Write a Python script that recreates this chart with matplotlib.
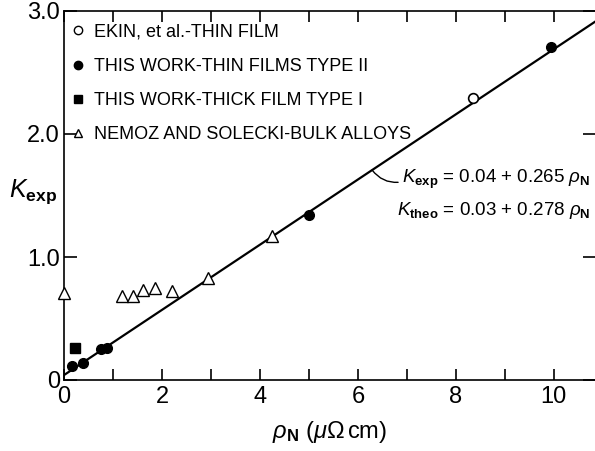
import matplotlib
matplotlib.use('Agg')
import matplotlib.pyplot as plt
from matplotlib.lines import Line2D
import numpy as np

plt.rcParams['font.family'] = ['Liberation Sans', 'DejaVu Sans']
plt.rcParams['mathtext.fontset'] = 'custom'
plt.rcParams['mathtext.rm'] = 'Liberation Sans'
plt.rcParams['mathtext.it'] = 'Liberation Sans:italic'
plt.rcParams['mathtext.bf'] = 'Liberation Sans:bold'

# Data
ekin_rho = [8.35]
ekin_k = [2.29]

thin_rho = [0.16, 0.38, 0.76, 0.88, 5.0, 9.95]
thin_k = [0.11, 0.14, 0.25, 0.26, 1.34, 2.71]

thick_rho = [0.22]
thick_k = [0.26]

nemoz_rho = [0.0, 1.18, 1.41, 1.61, 1.86, 2.2, 2.93, 4.24]
nemoz_k = [0.71, 0.68, 0.68, 0.73, 0.75, 0.72, 0.83, 1.17]

fit_a, fit_b = 0.04, 0.265

fig = plt.figure(figsize=(5.95, 4.51), dpi=100)
ax = fig.add_axes([64/595, 71/451, 531/595, 369/451])

# Fit line
xs = np.array([0.0, 11.0])
ax.plot(xs, fit_a + fit_b * xs, color='black', lw=1.6, zorder=2)

ax.plot(ekin_rho, ekin_k, 'o', ms=7, mfc='white', mec='black', mew=1.2, zorder=3)
ax.plot(thin_rho, thin_k, 'o', ms=7, color='black', zorder=3)
ax.plot(thick_rho, thick_k, 's', ms=6.5, color='black', zorder=3)
ax.plot(nemoz_rho, nemoz_k, '^', ms=8, mfc='white', mec='black', mew=1.0, zorder=3,
        clip_on=False)

ax.set_xlim(0, 10.84)
ax.set_ylim(0, 3.0)

ax.spines['right'].set_visible(False)
for s in ['left', 'bottom', 'top']:
    ax.spines[s].set_linewidth(1.2)

ax.set_xticks([0, 2, 4, 6, 8, 10])
ax.set_xticks([1, 3, 5, 7, 9], minor=True)
ax.set_xticklabels(['0', '2', '4', '6', '8', '10'])
ax.set_yticks([0, 1, 2, 3])
ax.set_yticklabels(['0', '1.0', '2.0', '3.0'])
ax.tick_params(axis='x', which='both', direction='in', top=True, length=8, width=1.2,
               labelsize=17, pad=4)
ax.tick_params(axis='y', which='both', direction='in', right=True, length=9, width=1.2,
               labelsize=17, pad=3)

ax.set_xlabel(r'$\rho_{\mathbf{N}}\ (\mu\Omega\,\mathrm{cm})$', fontsize=17, labelpad=8)
ax.set_ylabel(r'$K_{\mathbf{exp}}$', fontsize=18, rotation=0, va='center', ha='center')
ax.yaxis.set_label_coords(-0.058, 0.51)

# Legend
handles = [
    Line2D([], [], ls='none', marker='o', ms=6, mfc='white', mec='black', mew=1.0),
    Line2D([], [], ls='none', marker='o', ms=6, color='black'),
    Line2D([], [], ls='none', marker='s', ms=6, color='black'),
    Line2D([], [], ls='none', marker='^', ms=6, mfc='white', mec='black', mew=1.0),
]
labels = [
    'EKIN, et al.-THIN FILM',
    'THIS WORK-THIN FILMS TYPE II',
    'THIS WORK-THICK FILM TYPE I',
    'NEMOZ AND SOLECKI-BULK ALLOYS',
]
ax.legend(handles, labels, loc='upper left', bbox_to_anchor=(0.0, 0.985), frameon=False,
          fontsize=13, labelspacing=0.95, handlelength=0.8, handletextpad=0.45,
          borderaxespad=0)

# Equation annotations
ax.annotate(r'$K_{\mathbf{exp}}$ = 0.04 + 0.265 $\rho_{\mathbf{N}}$',
            xy=(6.29, fit_a + fit_b * 6.29), xytext=(10.75, 1.63),
            ha='right', va='center', fontsize=13.5,
            arrowprops=dict(arrowstyle='-', color='black', lw=1.0, relpos=(0, 0.4),
                            connectionstyle='arc3,rad=-0.3', shrinkA=1, shrinkB=0))
ax.text(10.75, 1.38, r'$K_{\mathbf{theo}}$ = 0.03 + 0.278 $\rho_{\mathbf{N}}$',
        ha='right', va='center', fontsize=13.5)

fig.savefig('out.png', dpi=100)
